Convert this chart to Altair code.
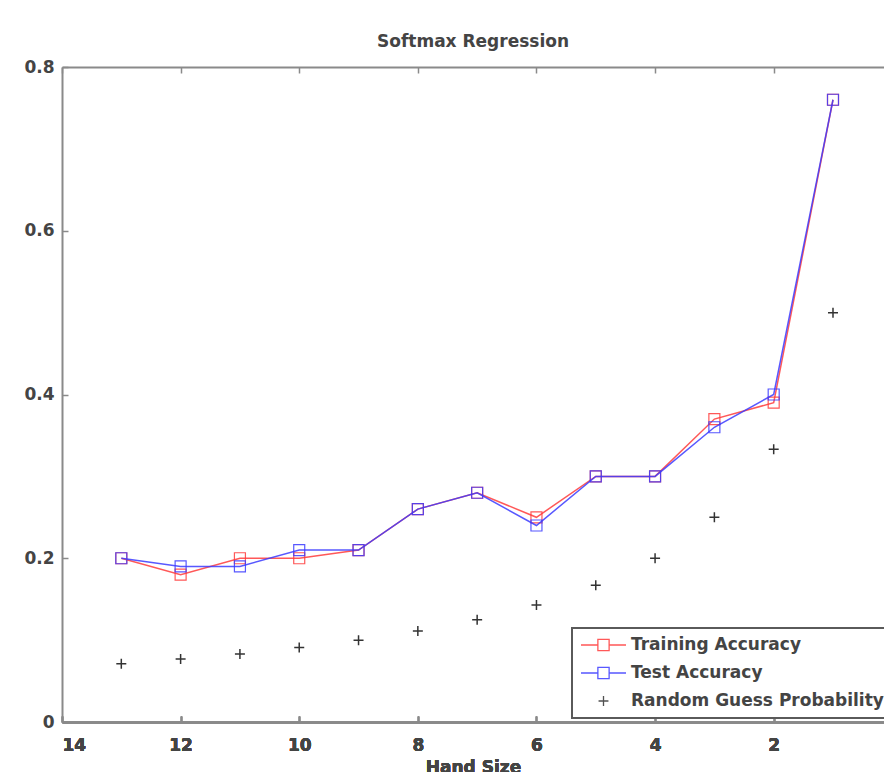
import altair as alt
import pandas as pd

hand_size = [13, 12, 11, 10, 9, 8, 7, 6, 5, 4, 3, 2, 1]
training_acc = [0.20, 0.18, 0.20, 0.20, 0.21, 0.26, 0.28, 0.25, 0.30, 0.30, 0.37, 0.39, 0.76]
test_acc = [0.20, 0.19, 0.19, 0.21, 0.21, 0.26, 0.28, 0.24, 0.30, 0.30, 0.36, 0.40, 0.76]
random_guess = [0.071, 0.077, 0.083, 0.091, 0.100, 0.111, 0.125, 0.143, 0.167, 0.200, 0.250, 0.333, 0.500]

series_names = ["Training Accuracy", "Test Accuracy", "Random Guess Probability"]
series_colors = ["#ff3b3b", "#3b3bff", "#333333"]
x_ticks = [2, 4, 6, 8, 10, 12, 14]
y_ticks = [0, 0.2, 0.4, 0.6, 0.8]

rows = []
for name, vals in zip(series_names, [training_acc, test_acc, random_guess]):
    for h, v in zip(hand_size, vals):
        rows.append({"hand": h, "value": v, "series": name})
df = pd.DataFrame(rows)

FONT = "DejaVu Sans"
TXT = "#444444"
AX = "#8a8a8a"

xscale = alt.Scale(domain=[0.14, 14], reverse=True, nice=False, zero=False)
yscale = alt.Scale(domain=[0, 0.8], nice=False)

x_bottom = alt.X("hand:Q", scale=xscale, title="Hand Size",
                 axis=alt.Axis(values=x_ticks, orient="bottom", labelPadding=21,
                               titlePadding=6))
y_left = alt.Y("value:Q", scale=yscale, title=None,
               axis=alt.Axis(values=y_ticks, format="~g", labelPadding=14))

base = alt.Chart(df)

line_path = "M-1,0H-0.25M0.25,0H1M-0.25,-0.25H0.25V0.25H-0.25Z"
plus_path = "M-0.22,0H0.22M0,-0.22V0.22"
plus_small = "M-1,0H1M0,-1V1"

layers = []
# top mirror axis
top = base.transform_filter(alt.datum.series == "Random Guess Probability").mark_point(
    opacity=0).encode(
    x=alt.X("hand:Q", scale=xscale, title=None,
            axis=alt.Axis(values=x_ticks, orient="top", labels=False)),
    y=alt.Y("value:Q", scale=yscale),
)
layers.append(top)

for name, col in zip(series_names[:2], series_colors[:2]):
    sub = base.transform_filter(alt.datum.series == name)
    layers.append(sub.mark_line(color=col, strokeWidth=1.5, opacity=0.85).encode(x=x_bottom, y=y_left))
    layers.append(sub.mark_point(shape="square", size=121, filled=False, color=col,
                                 strokeWidth=1.2, opacity=0.85).encode(x=x_bottom, y=y_left))

rnd = base.transform_filter(alt.datum.series == "Random Guess Probability")
layers.append(rnd.mark_point(shape=plus_small, size=100, filled=False, color="#333333",
                             strokeWidth=1.5, opacity=1).encode(x=x_bottom, y=y_left))

legend_layer = base.transform_filter("false").mark_point(filled=False, opacity=1).encode(
    x=x_bottom, y=y_left,
    color=alt.Color("series:N", scale=alt.Scale(domain=series_names, range=series_colors),
                    legend=alt.Legend(title=None, orient="none", legendX=510, legendY=561,
                                      fillColor="white", strokeColor="#5a5a5a",
                                      padding=8, labelFont=FONT, labelFontSize=17,
                                      labelFontWeight="bold",
                                      labelColor=TXT, labelLimit=400, symbolSize=2025,
                                      symbolStrokeWidth=1.3,
                                      labelOffset=4, rowPadding=10, clipHeight=18,
                                      symbolOpacity=0.85)),
    shape=alt.Shape("series:N", scale=alt.Scale(domain=series_names,
                                                range=[line_path, line_path, plus_path]),
                    legend=alt.Legend(title=None, orient="none", legendX=510, legendY=561)),
)
layers.append(legend_layer)

chart = alt.layer(*layers).resolve_axis(x="independent").properties(
    width=822, height=655,
    autosize=alt.AutoSizeParams(type="none"),
    padding={"left": 62, "top": 67, "right": 0, "bottom": 50},
    title=alt.TitleParams("Softmax Regression", font=FONT, fontSize=17, fontWeight="bold",
                          color=TXT, offset=7),
).configure_view(stroke=None).configure_axis(
    grid=False, domainColor=AX, domainWidth=2, tickColor=AX, tickWidth=1.5,
    tickSize={"expr": "-6"}, labelFont=FONT, labelFontSize=17, labelFontWeight="bold",
    labelColor=TXT, titleFont=FONT, titleFontSize=17, titleColor=TXT, titleFontWeight="bold",
).configure_legend(strokeWidth=2)

chart.save("out.html", embed_options={"renderer": "svg", "actions": False})
